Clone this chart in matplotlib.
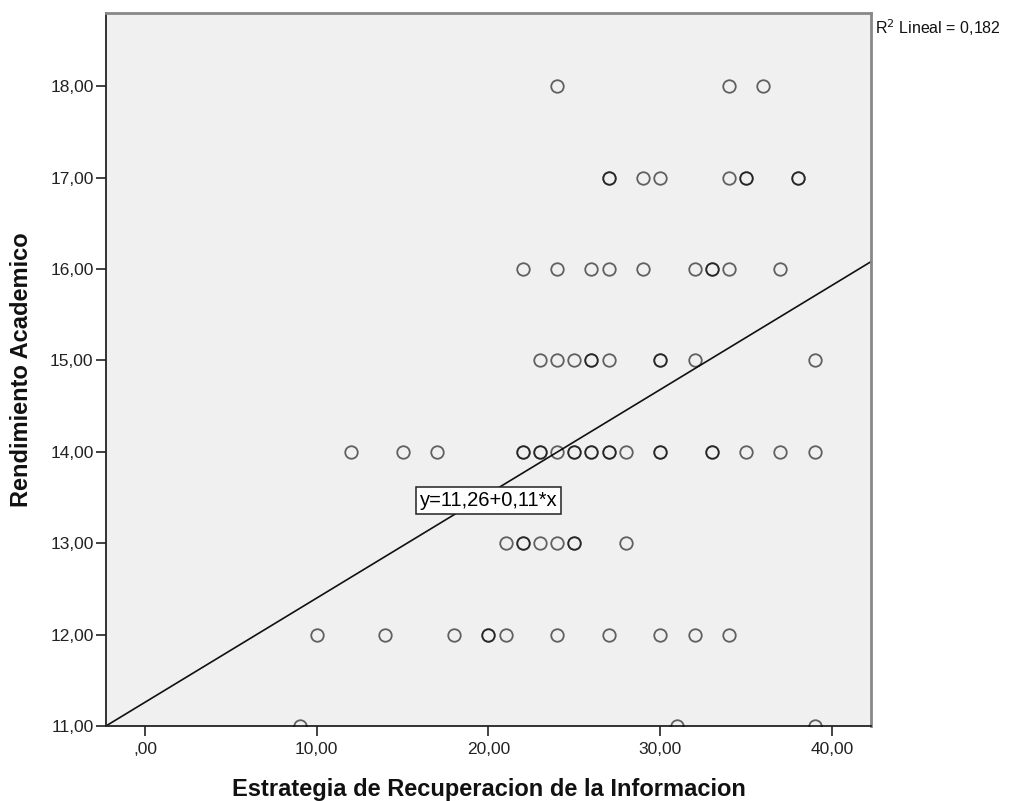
import numpy as np
import matplotlib
matplotlib.use("Agg")
import matplotlib.pyplot as plt

plt.rcParams['font.family'] = ['Liberation Sans', 'DejaVu Sans']

# scores, one entry per case (repeats = overlapping circles)
estrategia = [24, 34, 36,
              27, 27, 29, 30, 34, 35, 35, 38, 38,
              22, 24, 26, 27, 29, 32, 33, 33, 34, 37,
              23, 24, 25, 26, 26, 27, 30, 30, 32, 39,
              12, 15, 17, 22, 22, 23, 23, 24, 25, 25, 26, 26, 27, 27, 28, 30, 30, 33, 33, 35, 37, 39,
              21, 22, 22, 23, 24, 25, 25, 28,
              10, 14, 18, 20, 20, 21, 24, 27, 30, 32, 34,
              9, 31, 39]
rendimiento = ([18] * 3 + [17] * 9 + [16] * 10 + [15] * 10 + [14] * 22
               + [13] * 8 + [12] * 11 + [11] * 3)

fit_intercept = 11.26
fit_slope = 0.114
fit_label = "y=11,26+0,11*x"
r2_label = "R$^2$ Lineal = 0,182"

x_ticks = [0, 10, 20, 30, 40]
x_ticklabels = [",00", "10,00", "20,00", "30,00", "40,00"]
y_ticks = [11, 12, 13, 14, 15, 16, 17, 18]
y_ticklabels = ["11,00", "12,00", "13,00", "14,00", "15,00", "16,00", "17,00", "18,00"]

xlim = (-2.27, 42.28)
ylim = (11.0, 18.80)

fig = plt.figure(figsize=(10.10, 8.01), dpi=100)
ax = fig.add_axes([0.105, 0.0936, 0.7574, 0.8902])
ax.set_facecolor('#f0f0f0')

# points
ax.plot(estrategia, rendimiento, linestyle='none', marker='o', markersize=9,
        markerfacecolor='none', markeredgecolor=(0, 0, 0, 0.6), markeredgewidth=1.3,
        zorder=3)

# regression line
xs = np.array(xlim)
ax.plot(xs, fit_intercept + fit_slope * xs, color='#111111', linewidth=1.2, zorder=2)

ax.text(20.0, 13.47, fit_label, fontsize=14.5, ha='center', va='center', zorder=4,
        bbox=dict(boxstyle='square,pad=0.2', facecolor='white', edgecolor='#222222',
                  linewidth=1.1))

ax.set_xlim(*xlim)
ax.set_ylim(*ylim)
ax.set_xticks(x_ticks)
ax.set_xticklabels(x_ticklabels)
ax.set_yticks(y_ticks)
ax.set_yticklabels(y_ticklabels)
ax.tick_params(axis='both', direction='out', length=7.5, width=1.2, color='#222222',
               labelsize=12.5, labelcolor='#222222')
ax.tick_params(axis='x', pad=4)
ax.tick_params(axis='y', pad=1.5)

for side in ['left', 'bottom']:
    ax.spines[side].set_color('#222222')
    ax.spines[side].set_linewidth(1.3)
for side in ['top', 'right']:
    ax.spines[side].set_color('#888888')
    ax.spines[side].set_linewidth(2.0)

ax.set_xlabel("Estrategia de Recuperacion de la Informacion", fontsize=17,
              fontweight='bold', color='#111111')
ax.set_ylabel("Rendimiento Academico", fontsize=17, fontweight='bold', color='#111111')
ax.xaxis.set_label_coords(0.5, -0.073)
ax.xaxis.label.set_va('top')
ax.yaxis.set_label_coords(-0.095, 0.5)

fig.text(875 / 1010, 1 - 28 / 801, r2_label, fontsize=11.5, ha='left', va='center',
         color='#111111')

fig.savefig("out.png", dpi=100)
